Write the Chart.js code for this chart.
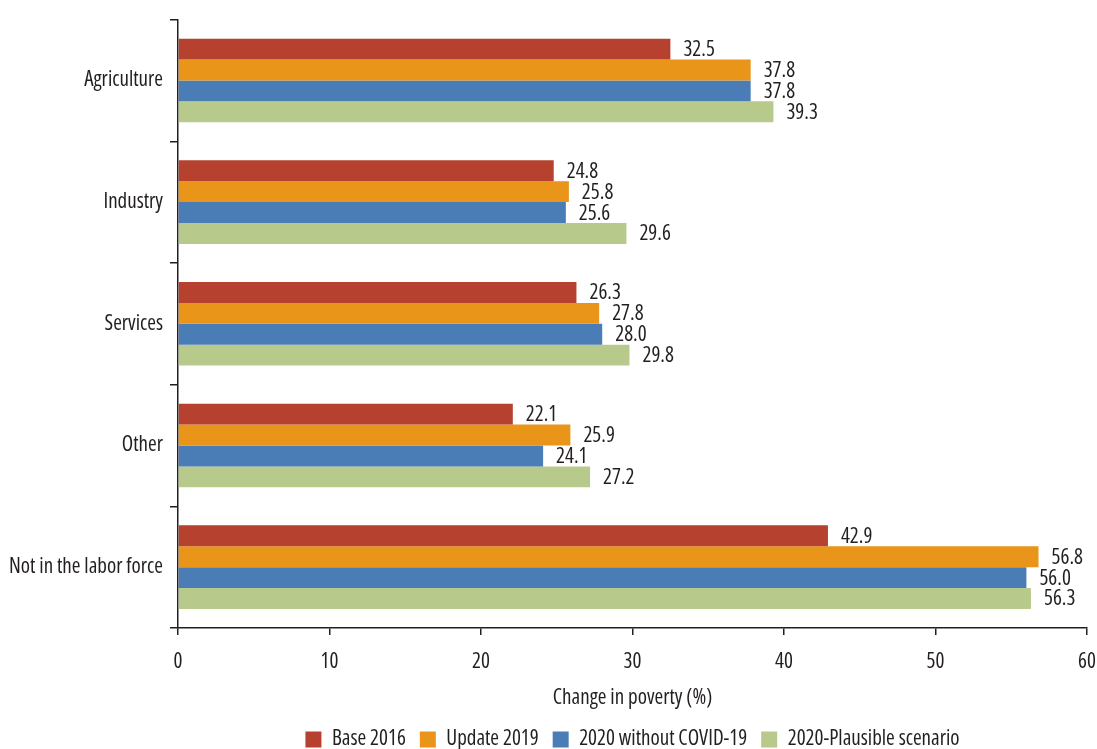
<!DOCTYPE html>
<html>
<head>
<meta charset="utf-8">
<script src="https://cdn.jsdelivr.net/npm/chart.js@4/dist/chart.umd.min.js"></script>
<style>
  html, body { margin: 0; padding: 0; background: #fff; }
  #wrap { width: 1097px; height: 749px; position: relative; }
</style>
</head>
<body>
<div id="wrap"><canvas id="c"></canvas></div>
<script>
const categories = ["Agriculture", "Industry", "Services", "Other", "Not in the labor force"];
const base2016 = [32.5, 24.8, 26.3, 22.1, 42.9];
const update2019 = [37.8, 25.8, 27.8, 25.9, 56.8];
const without2020 = [37.8, 25.6, 28.0, 24.1, 56.0];
const plausible2020 = [39.3, 29.6, 29.8, 27.2, 56.3];
const seriesNames = ["Base 2016", "Update 2019", "2020 without COVID-19", "2020-Plausible scenario"];
const xTicks = [0, 10, 20, 30, 40, 50, 60];

const FAMILY = '"Open Sans", "Roboto Condensed", sans-serif';
const FSIZE = 21;
const mkFont = () => ({ family: FAMILY, size: FSIZE, weight: 'condensed' });
const TXT = '#231f20';
const colors = ['#b5412e', '#e8951a', '#4a7db5', '#b8c98c'];

const valueLabels = {
  id: 'valueLabels',
  afterDatasetsDraw(chart) {
    const ctx = chart.ctx;
    ctx.save();
    ctx.font = 'condensed ' + FSIZE + 'px ' + FAMILY;
    ctx.fillStyle = TXT;
    ctx.textAlign = 'left';
    ctx.textBaseline = 'middle';
    chart.data.datasets.forEach((ds, i) => {
      const meta = chart.getDatasetMeta(i);
      meta.data.forEach((bar, j) => {
        ctx.fillText(ds.data[j].toFixed(1), bar.x + 13, bar.y + 1);
      });
    });
    ctx.restore();
  }
};

const dataSeries = [base2016, update2019, without2020, plausible2020];

new Chart(document.getElementById('c'), {
  type: 'bar',
  data: {
    labels: categories,
    datasets: dataSeries.map((d, i) => ({
      label: seriesNames[i],
      data: d,
      backgroundColor: colors[i],
      borderWidth: 0,
      categoryPercentage: 0.687,
      barPercentage: 1.0
    }))
  },
  options: {
    indexAxis: 'y',
    responsive: true,
    maintainAspectRatio: false,
    animation: false,
    layout: { padding: { left: 0, right: 0, top: 16, bottom: -11 } },
    plugins: {
      tooltip: { enabled: false },
      legend: {
        position: 'bottom',
        fullSize: false,
        labels: {
          font: mkFont(),
          color: TXT,
          boxWidth: 16,
          boxHeight: 16,
          padding: 14
        }
      }
    },
    scales: {
      x: {
        min: 0,
        max: 60,
        afterBuildTicks(scale) { scale.ticks = xTicks.map(v => ({ value: v })); },
        afterFit(scale) { scale.height = 87; scale.paddingRight = 10; scale.paddingLeft = 0; },
        ticks: { font: mkFont(), color: TXT, padding: 14 },
        grid: { drawOnChartArea: false, drawTicks: true, tickLength: 7, color: TXT, lineWidth: 1.5 },
        border: { display: true, color: TXT, width: 1.5 },
        title: {
          display: true,
          text: 'Change in poverty (%)',
          font: mkFont(),
          color: TXT,
          padding: { top: 4, bottom: 4 }
        }
      },
      y: {
        afterFit(scale) { scale.width = 178; },
        ticks: { font: mkFont(), color: TXT, padding: 7 },
        grid: { offset: true, drawOnChartArea: false, drawTicks: true, tickLength: 8, color: TXT, lineWidth: 1.5 },
        border: { display: true, color: TXT, width: 1.5 }
      }
    }
  },
  plugins: [valueLabels]
});
</script>
</body>
</html>
